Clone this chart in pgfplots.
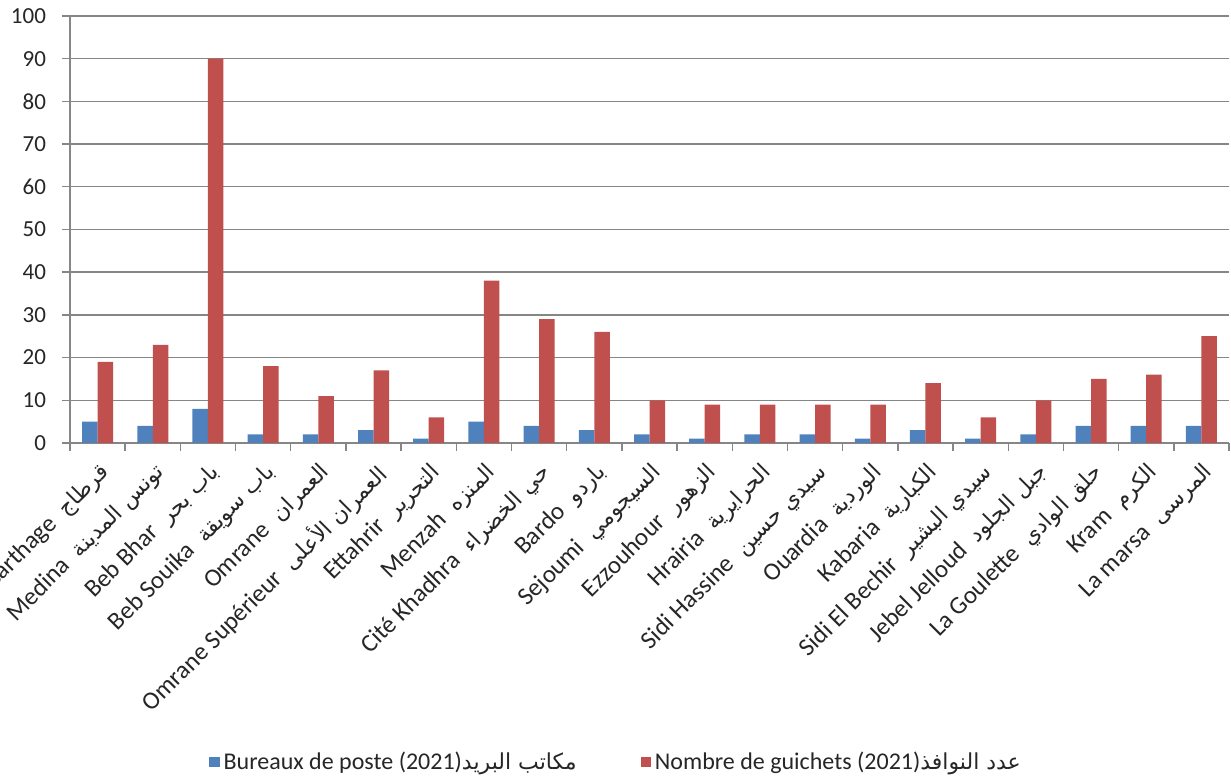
\documentclass[border=0pt]{standalone}
\usepackage{fontspec}
\setmainfont{Carlito}
\newfontfamily\arfont[Script=Arabic]{DejaVu Sans}
\TeXXeTstate=1
\usepackage{pgfplots}
\usepackage{pgfplotstable}
\pgfplotsset{compat=1.18}

\definecolor{bleu}{RGB}{79,129,189}
\definecolor{rouge}{RGB}{192,80,77}
\definecolor{axe}{RGB}{134,134,134}

\newcommand{\ar}{\arfont\fontsize{11}{12}\selectfont}
\newcommand{\gap}{\hspace{0.5em}}

% delegation, bureaux de poste, guichets (2021)
\pgfplotstableread{
x bureaux guichets
0  5 19
1  4 23
2  8 90
3  2 18
4  2 11
5  3 17
6  1  6
7  5 38
8  4 29
9  3 26
10 2 10
11 1  9
12 2  9
13 2  9
14 1  9
15 3 14
16 1  6
17 2 10
18 4 15
19 4 16
20 4 25
}\data

\begin{document}
\begin{tikzpicture}
\begin{axis}[
    scale only axis,
    width=579.5pt, height=213.5pt,
    xmin=-0.5, xmax=20.5,
    ymin=0, ymax=100,
    ytick={0,10,...,100},
    xtick={0,...,20},
    xticklabels={
        {Carthage\gap{\ar\beginR قرطاج\endR}},
        {Medina\gap{\ar\beginR تونس المدينة\endR}},
        {Beb Bhar\gap{\ar\beginR باب بحر\endR}},
        {Beb Souika\gap{\ar\beginR باب سويقة\endR}},
        {Omrane\gap{\ar\beginR العمران\endR}},
        {Omrane Supérieur\gap{\ar\beginR العمران الأعلى\endR}},
        {Ettahrir\gap{\ar\beginR التحرير\endR}},
        {Menzah\gap{\ar\beginR المنزه\endR}},
        {Cité Khadhra\gap{\ar\beginR حي الخضراء\endR}},
        {Bardo\gap{\ar\beginR باردو\endR}},
        {Sejoumi\gap{\ar\beginR السيجومي\endR}},
        {Ezzouhour\gap{\ar\beginR الزهور\endR}},
        {Hrairia\gap{\ar\beginR الحرايرية\endR}},
        {Sidi Hassine\gap{\ar\beginR سيدي حسين\endR}},
        {Ouardia\gap{\ar\beginR الوردية\endR}},
        {Kabaria\gap{\ar\beginR الكبارية\endR}},
        {Sidi El Bechir\gap{\ar\beginR سيدي البشير\endR}},
        {Jebel Jelloud\gap{\ar\beginR جبل الجلود\endR}},
        {La Goulette\gap{\ar\beginR حلق الوادي\endR}},
        {Kram\gap{\ar\beginR الكرم\endR}},
        {La marsa\gap{\ar\beginR المرسى\endR}}
    },
    minor xtick={-0.5,0.5,...,20.5},
    major x tick style={draw=none},
    minor tick length=4pt,
    major tick length=4pt,
    tick align=outside,
    xtick pos=lower, ytick pos=left,
    axis x line*=bottom, axis y line*=left,
    axis line style={draw=axe, line width=0.7pt},
    every tick/.style={draw=axe, line width=0.7pt},
    minor x tick style={draw=axe, line width=0.7pt},
    ymajorgrids,
    grid style={draw=axe, line width=0.7pt},
    /pgf/number format/assume math mode=true,
    yticklabel style={font=\fontsize{11.5}{13}\selectfont, text=black!85, xshift=-4.5pt},
    xticklabel style={font=\fontsize{12.5}{14}\selectfont, text=black!85,
        rotate=45, anchor=north east},
    ybar=0pt, bar width=7.75pt,
    legend style={at={(0.472,-0.747)}, anchor=center, draw=none,
        font=\fontsize{12}{14}\selectfont, text=black!85,
        legend columns=2,
        /tikz/every even column/.append style={column sep=30pt}},
    legend image code/.code={\fill[#1] (0pt,-2.6pt) rectangle (5.2pt,2.6pt);},
]
\addplot[fill=bleu, draw=none] table[x=x, y=bureaux] {\data};
\addplot[fill=rouge, draw=none] table[x=x, y=guichets] {\data};
\legend{Bureaux de poste (2021){\ar\beginR مكاتب البريد\endR},
        Nombre de guichets (2021){\ar\beginR عدد النوافذ\endR}}
\end{axis}
\pgfresetboundingbox
\path (-35pt,-168pt) rectangle (580.5pt,221.5pt);
\end{tikzpicture}
\end{document}
